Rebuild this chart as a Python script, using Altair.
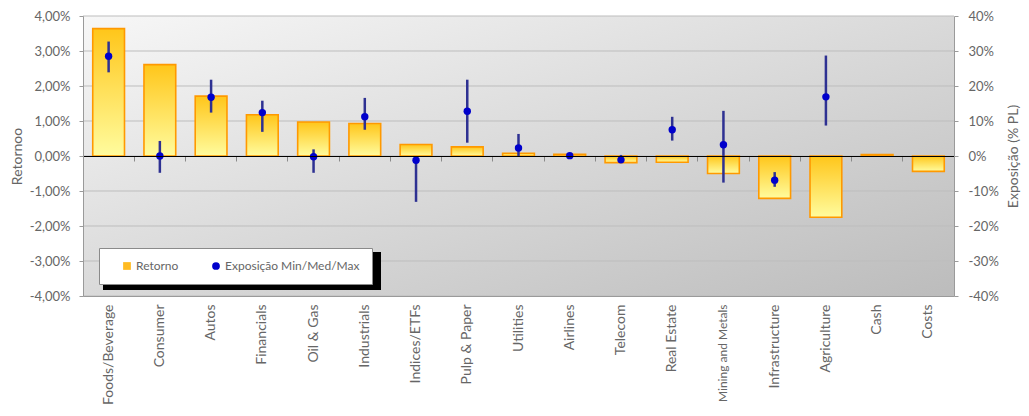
import altair as alt
import pandas as pd

# ---------------- data ----------------
categories = ["Foods/Beverage", "Consumer", "Autos", "Financials", "Oil & Gas",
              "Industrials", "Indices/ETFs", "Pulp & Paper", "Utilities", "Airlines",
              "Telecom", "Real Estate", "Mining and Metals", "Infrastructure",
              "Agriculture", "Cash", "Costs"]
retorno_pct = [3.64, 2.61, 1.71, 1.18, 0.97, 0.93, 0.33, 0.26, 0.08, 0.05,
               -0.19, -0.18, -0.50, -1.21, -1.75, 0.04, -0.44]

exp_categories = categories[:15]
exp_med_pct = [28.5, 0.0, 16.8, 12.4, -0.2, 11.2, -1.2, 12.8, 2.3, 0.1, -1.1, 7.5, 3.2, -6.9, 16.9]
exp_min_pct = [23.9, -4.8, 12.4, 6.9, -4.8, 7.5, -13.1, 3.8, 0.0, 0.0, -1.3, 4.4, -7.6, -8.8, 8.7]
exp_max_pct = [32.7, 4.3, 21.8, 15.8, 1.9, 16.6, -0.3, 21.8, 6.3, 0.2, 0.3, 11.2, 12.9, -4.6, 28.7]

left_ticks_pct = [-4, -3, -2, -1, 0, 1, 2, 3, 4]
right_ticks_pct = [-40, -30, -20, -10, 0, 10, 20, 30, 40]

series_names = ["Retorno", "Exposição Min/Med/Max"]

# ---------------- tables ----------------
bars_df = pd.DataFrame({"cat": categories, "ret": [v / 100 for v in retorno_pct]})
exp_df = pd.DataFrame({
    "cat": exp_categories,
    "med": [v / 100 for v in exp_med_pct],
    "lo": [v / 100 for v in exp_min_pct],
    "hi": [v / 100 for v in exp_max_pct],
    "serie": series_names[1],
})
grid_df = pd.DataFrame({"v": [t / 100 for t in left_ticks_pct]})
one_df = pd.DataFrame({"a": [0]})

W, H = 871, 280
FONT = "Lato"
GREY = "#666666"

xscale = alt.Scale(domain=categories, paddingInner=0.38, paddingOuter=0.19)

x_label_axis = alt.Axis(
    title=None, labelAngle=-90, ticks=False, domain=True,
    domainColor="#9a9a9a", labelPadding=8, labelLimit=130,
    labelFontSize={"condition": {"test": "datum.value === 'Mining and Metals'", "value": 12}, "value": 14},
    zindex=1)
x_tick_axis = alt.Axis(title=None, labels=False, orient="bottom", offset=-140,
                       domainColor="#000000", domainWidth=1.2, tickColor="#8a8a8a",
                       tickSize=5, bandPosition=-0.306, zindex=1)

yL_scale = alt.Scale(domain=[-0.04, 0.04], nice=False, zero=False)
yL_axis = alt.Axis(title="Retornoo", values=[t / 100 for t in left_ticks_pct],
                   labelExpr="replace(replace(format(datum.value, '.2%'), '.', ','), '−', '-')",
                   grid=False, domainColor="#9a9a9a", tickColor="#9a9a9a", tickSize=4,
                   labelPadding=9, titlePadding=5, zindex=1)
yR_scale = alt.Scale(domain=[-0.4, 0.4], nice=False, zero=False)
yR_axis = alt.Axis(title="Exposição (% PL)", orient="right", titleAngle=270,
                   values=[t / 100 for t in right_ticks_pct],
                   labelExpr="replace(format(datum.value, '.0%'), '−', '-')",
                   grid=False, domainColor="#9a9a9a", tickColor="#9a9a9a", tickSize=4,
                   labelPadding=10, titlePadding=22, zindex=1)

bg_gradient = {"gradient": "linear", "x1": 0, "y1": 0, "x2": 1, "y2": 1,
               "stops": [{"offset": 0, "color": "#f7f7f7"}, {"offset": 1, "color": "#bcbcbc"}]}
bar_gradient = {"gradient": "linear", "x1": 0, "y1": 0, "x2": 0, "y2": 1,
                "stops": [{"offset": 0, "color": "#ffc61a"}, {"offset": 1, "color": "#fffc9e"}]}

background = alt.Chart(one_df).mark_rect(fill=bg_gradient).encode(
    x=alt.value(0), x2=alt.value(W), y=alt.value(0), y2=alt.value(H))

grid = alt.Chart(grid_df).mark_rule(color="#bdbdbd", strokeWidth=1).encode(
    y=alt.Y("v:Q", scale=yL_scale, axis=yL_axis))

bars = alt.Chart(bars_df).mark_bar(fill=bar_gradient, stroke="#ff9900", strokeWidth=1.6).encode(
    x=alt.X("cat:N", sort=categories, scale=xscale, axis=x_label_axis),
    y=alt.Y("ret:Q", scale=yL_scale, axis=yL_axis),
    y2=alt.datum(0),
)

legend_x, legend_y = 16, 232
shadow = alt.Chart(one_df).mark_rect(color="#000000").encode(
    x=alt.value(legend_x + 4), x2=alt.value(legend_x + 282),
    y=alt.value(legend_y + 4), y2=alt.value(legend_y + 42))

left_group = alt.layer(background, grid, bars, shadow)

leg = alt.Legend(title=None, orient="none", legendX=legend_x, legendY=legend_y,
                 direction="horizontal", fillColor="#ffffff", strokeColor="#8a8a8a",
                 padding=12, symbolOffset=10, columnPadding=21, labelOffset=3,
                 labelFont=FONT, labelFontSize=12, labelColor=GREY, symbolSize=60,
                 symbolStrokeWidth=0)

err = alt.Chart(exp_df).mark_rule(color="#2e3192", strokeWidth=2.5).encode(
    x=alt.X("cat:N", sort=categories, scale=xscale, axis=x_tick_axis),
    y=alt.Y("lo:Q", scale=yR_scale, axis=yR_axis),
    y2="hi:Q",
)
pts = alt.Chart(exp_df).mark_point(filled=True, size=55, opacity=1).encode(
    x=alt.X("cat:N", sort=categories, scale=xscale, axis=x_tick_axis),
    y=alt.Y("med:Q", scale=yR_scale, axis=yR_axis),
    color=alt.Color("serie:N", scale=alt.Scale(domain=series_names, range=["#ffbb22", "#0000cc"]), legend=leg),
    shape=alt.Shape("serie:N", scale=alt.Scale(domain=series_names, range=["square", "circle"]), legend=leg),
)
right_group = alt.layer(err, pts)

chart = alt.layer(left_group, right_group).resolve_scale(
    y="independent").resolve_axis(x="independent").properties(
    width=W, height=H,
    autosize=alt.AutoSizeParams(type="none"),
    padding={"left": 75, "top": 8, "right": 67, "bottom": 110},
    background="#ffffff"
).configure_view(stroke=None).configure_axis(
    labelFont=FONT, titleFont=FONT, labelColor=GREY, titleColor=GREY,
    labelFontSize=13, titleFontSize=14, titleFontWeight="normal"
)

chart.save("out.html", embed_options={"renderer": "svg", "actions": False})
